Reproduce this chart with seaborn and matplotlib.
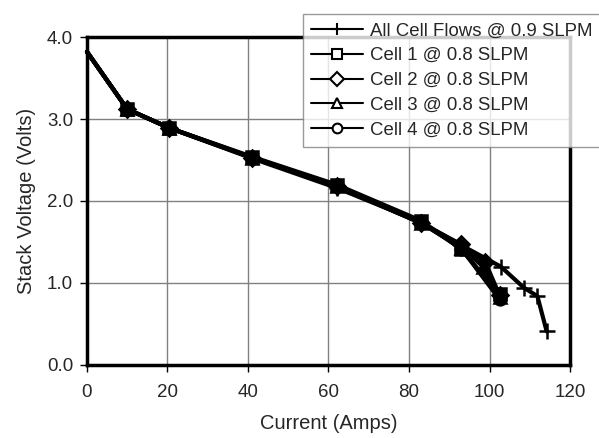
import matplotlib
matplotlib.use("Agg")
import matplotlib.pyplot as plt
import pandas as pd
import seaborn as sns

# %% data
labels = ["All Cell Flows @ 0.9 SLPM", "Cell 1 @ 0.8 SLPM", "Cell 2 @ 0.8 SLPM",
          "Cell 3 @ 0.8 SLPM", "Cell 4 @ 0.8 SLPM"]
markers = ["+", "s", "D", "^", "o"]

all_x = [0, 10, 20.5, 41, 62, 83, 93, 102.8, 108.6, 111.9, 114.2]
all_y = [3.82, 3.12, 2.89, 2.52, 2.16, 1.74, 1.46, 1.20, 0.94, 0.84, 0.41]
cell1_x = [0, 10, 20.5, 41, 62, 83, 93, 102.5]
cell1_y = [3.82, 3.12, 2.89, 2.54, 2.20, 1.76, 1.41, 0.86]
cell2_x = [0, 10, 20.5, 41, 62, 83, 93, 99, 102.5]
cell2_y = [3.82, 3.12, 2.89, 2.53, 2.18, 1.73, 1.47, 1.25, 0.85]
cell3_x = [0, 10, 20.5, 41, 62, 83, 93, 98.5, 102.5]
cell3_y = [3.82, 3.12, 2.89, 2.53, 2.18, 1.73, 1.43, 1.20, 0.83]
cell4_x = [0, 10, 20.5, 41, 62, 83, 93, 102.5]
cell4_y = [3.82, 3.12, 2.89, 2.53, 2.19, 1.74, 1.42, 0.80]

xs = [all_x, cell1_x, cell2_x, cell3_x, cell4_x]
ys = [all_y, cell1_y, cell2_y, cell3_y, cell4_y]

# %% plot
sns.set_style("white")
plt.rcParams["font.family"] = ["Liberation Sans", "DejaVu Sans"]

fig = plt.figure(figsize=(5.99, 4.38), dpi=100)
ax = fig.add_axes([0.1452, 0.1667, 0.8064, 0.7488])

for lab, mk, x, y in zip(labels, markers, xs, ys):
    df = pd.DataFrame({"x": x, "y": y})
    ms = 11 if mk == "+" else 8.5
    # first point (open circuit) has no marker in the original
    sns.lineplot(data=df, x="x", y="y", ax=ax, color="black", linewidth=3,
                 marker=mk, markersize=ms, markerfacecolor="black",
                 markeredgecolor="black", markeredgewidth=1.8,
                 markevery=list(range(1, len(x))),
                 label=lab, sort=False, clip_on=False)

ax.set_xlim(0, 120)
ax.set_ylim(0, 4)
ax.set_xticks(range(0, 121, 20))
ax.set_yticks([0, 1, 2, 3, 4])
ax.set_yticklabels(["0.0", "1.0", "2.0", "3.0", "4.0"])
ax.grid(True, color="#808080", linewidth=1)
for s in ax.spines.values():
    s.set_color("black")
    s.set_linewidth(2.5)
ax.tick_params(axis="both", direction="out", length=5, width=1, color="black",
               labelsize=13.5, bottom=True, left=True)
ax.tick_params(axis="x", pad=9)
ax.tick_params(axis="y", pad=5)
ax.set_xlabel("Current (Amps)", fontsize=14.5, labelpad=9)
ax.set_ylabel("Stack Voltage (Volts)", fontsize=14.5, labelpad=8)

leg = ax.legend(loc="upper left", bbox_to_anchor=(302.7 / 599, 1 - 14 / 438),
                bbox_transform=fig.transFigure, fontsize=13.4, frameon=True,
                fancybox=False, borderaxespad=0, handlelength=2.8,
                labelspacing=0.42, borderpad=0.45, handletextpad=0.35)
leg.get_frame().set_edgecolor("#808080")
leg.get_frame().set_linewidth(1)
for h in leg.legend_handles:
    h.set_linewidth(1.5)
    h.set_markeredgewidth(1.5)
    h.set_markerfacecolor("white")
    h.set_markersize(9 if h.get_marker() == "+" else 7)

fig.savefig("out.png", dpi=100)
